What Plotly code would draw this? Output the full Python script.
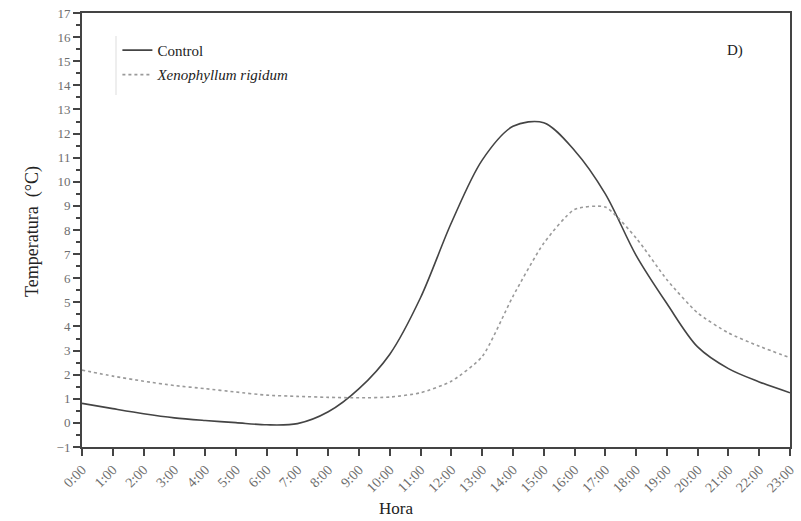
import plotly.graph_objects as go

hours = list(range(24))
hour_labels = [f"{h}:00" for h in hours]

control = [0.81, 0.59, 0.38, 0.21, 0.10, 0.01, -0.08, -0.03, 0.46, 1.42,
           2.85, 5.2, 8.3, 10.9, 12.3, 12.45, 11.3, 9.5, 6.95, 4.95,
           3.15, 2.25, 1.7, 1.25]
xeno = [2.19, 1.94, 1.73, 1.55, 1.42, 1.28, 1.15, 1.10, 1.06, 1.04,
        1.07, 1.25, 1.73, 2.75, 5.25, 7.45, 8.85, 8.95, 7.67, 5.94,
        4.56, 3.73, 3.18, 2.70]

serif = "Liberation Serif, Times New Roman, serif"

# plot-area pixel geometry
L, R, T, B = 82, 790, 13, 447
W, H = R - L, B - T


def px(xp):
    return (xp - L) / W


def py(yp):
    return (B - yp) / H


fig = go.Figure()
fig.add_trace(go.Scatter(x=hours, y=control, mode="lines", name="Control", legendgroup="a",
                         line=dict(color="#444444", width=1.6, shape="spline", smoothing=0.9)))
fig.add_trace(go.Scatter(x=hours, y=xeno, mode="lines", name="<i>Xenophyllum rigidum</i>", legendgroup="b",
                         line=dict(color="#9a9a9a", width=1.6, dash="dot", shape="spline", smoothing=0.6)))

fig.update_layout(
    width=801, height=521,
    margin=dict(l=L, r=801 - R, t=T, b=521 - B),
    paper_bgcolor="white", plot_bgcolor="white",
    font=dict(family=serif, color="#222222"),
    showlegend=True,
    legend=dict(x=0.05, y=0.952, xanchor="left", yanchor="top", traceorder="grouped",
                bgcolor="rgba(0,0,0,0)", font=dict(family=serif, size=15, color="#222222"),
                itemwidth=30, tracegroupgap=2),
    annotations=[
        dict(text="D)", x=px(735), y=py(50), xref="paper", yref="paper",
             xanchor="center", yanchor="middle", showarrow=False,
             font=dict(family=serif, size=15, color="#222222")),
        dict(text="Hora", x=px(396), y=py(508), xref="paper", yref="paper",
             xanchor="center", yanchor="middle", showarrow=False,
             font=dict(family=serif, size=17, color="#222222")),
        dict(text="Temperatura  (°C)", x=px(32), y=py(232), xref="paper", yref="paper",
             xanchor="center", yanchor="middle", showarrow=False, textangle=-90,
             font=dict(family=serif, size=18, color="#222222")),
    ],
    shapes=[dict(type="line", xref="paper", yref="paper",
                 x0=px(116), x1=px(116), y0=py(95), y1=py(36),
                 line=dict(color="#dddddd", width=1))],
)

fig.update_xaxes(
    range=[0, 23], tickmode="array", tickvals=hours, ticktext=hour_labels,
    tickangle=-45, ticks="outside", ticklen=7, tickwidth=2, tickcolor="#444444",
    showline=True, linecolor="#444444", linewidth=2, mirror=True,
    showgrid=False, zeroline=False, automargin=False,
    tickfont=dict(family=serif, size=14, color="#6e6e6e"),
)
fig.update_yaxes(
    range=[-1, 17], tickmode="linear", tick0=-1, dtick=1,
    ticks="outside", ticklen=7, tickwidth=2, tickcolor="#444444",
    minor=dict(ticks="outside", ticklen=4, tickwidth=1.5, tickcolor="#444444", dtick=0.5, tick0=-1),
    showline=True, linecolor="#444444", linewidth=2, mirror=True,
    showgrid=False, zeroline=False, automargin=False,
    tickfont=dict(family=serif, size=13, color="#6e6e6e"),
)

fig.write_html("out.html")
